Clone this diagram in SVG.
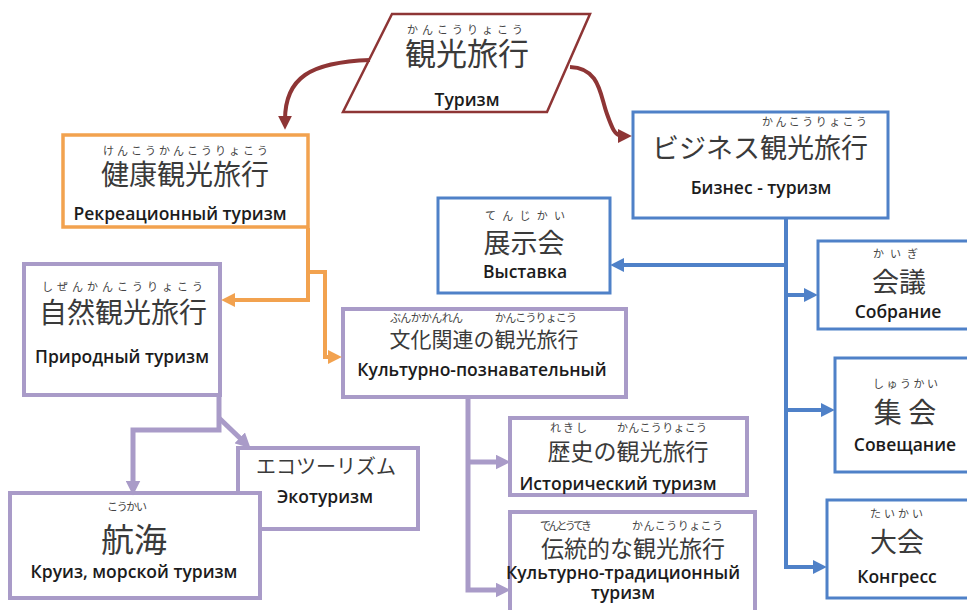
<svg xmlns="http://www.w3.org/2000/svg" width="967" height="610" viewBox="0 0 967 610">
<defs>
<style>
.jp{font-family:"Noto Sans CJK JP","Noto Sans CJK SC",sans-serif;fill:#3a3a3a;}
.fu{font-family:"Noto Sans CJK JP","Noto Sans CJK SC",sans-serif;fill:#444;font-size:11px;}
.ru{font-family:"Open Sans","Noto Sans",sans-serif;font-weight:600;font-size:17.5px;fill:#1c1c1c;}
.m{text-anchor:middle;}
.bo{fill:#fff;stroke:#F2A24F;stroke-width:3.5;}
.bp{fill:#fff;stroke:#A99BC8;stroke-width:4;}
.bb{fill:#fff;stroke:#4F81C8;stroke-width:3;}
.cr{fill:none;stroke:#8E3535;stroke-width:4;}
.co{fill:none;stroke:#F2A24F;stroke-width:4;}
.cp{fill:none;stroke:#A99BC8;stroke-width:5;}
.cb{fill:none;stroke:#4F81C8;stroke-width:4;}
</style>
<marker id="ar" viewBox="0 0 10 10" markerWidth="14" markerHeight="14" markerUnits="userSpaceOnUse" refX="3" refY="5" orient="auto"><path d="M0,0 L10,5 L0,10 z" fill="#8E3535"/></marker>
<marker id="ao" viewBox="0 0 10 10" markerWidth="14" markerHeight="14" markerUnits="userSpaceOnUse" refX="3" refY="5" orient="auto"><path d="M0,0 L10,5 L0,10 z" fill="#F2A24F"/></marker>
<marker id="ap" viewBox="0 0 10 10" markerWidth="15" markerHeight="15" markerUnits="userSpaceOnUse" refX="3" refY="5" orient="auto"><path d="M0,0 L10,5 L0,10 z" fill="#A99BC8"/></marker>
<marker id="ab" viewBox="0 0 10 10" markerWidth="14" markerHeight="14" markerUnits="userSpaceOnUse" refX="3" refY="5" orient="auto"><path d="M0,0 L10,5 L0,10 z" fill="#4F81C8"/></marker>
</defs>
<rect width="967" height="610" fill="#fff"/>

<g id="kanko">
<polygon points="392,14 590,14 547,112 343,112" fill="#fff" stroke="#8E3535" stroke-width="2.5"/>
<text class="fu" x="407" y="34" textLength="116" font-size="13">かんこうりょこう</text>
<text class="jp m" x="467" y="65" font-size="31">観光旅行</text>
<text class="ru m" x="467" y="106">Туризм</text>
</g>

<g id="kenko">
<rect class="bo" x="63" y="135" width="245" height="92"/>
<text class="fu" x="103" y="155" textLength="165">けんこうかんこうりょこう</text>
<text class="jp m" x="185" y="185" font-size="28">健康観光旅行</text>
<text class="ru m" x="180" y="220">Рекреационный туризм</text>
</g>

<g id="shizen">
<rect class="bp" x="24" y="264" width="196" height="131"/>
<text class="fu" x="42" y="291" textLength="161">しぜんかんこうりょこう</text>
<text class="jp m" x="123" y="323" font-size="28">自然観光旅行</text>
<text class="ru m" x="122" y="363">Природный туризм</text>
</g>

<g id="bunka">
<rect class="bp" x="343" y="309" width="283" height="88"/>
<text class="fu" x="390" y="322" textLength="73" font-size="10">ぶんかかんれん</text>
<text class="fu" x="495" y="322" textLength="82" font-size="10">かんこうりょこう</text>
<text class="jp m" x="484" y="347" font-size="21">文化関連の観光旅行</text>
<text class="ru m" x="482" y="376">Культурно-познавательный</text>
</g>

<g id="eco">
<rect class="bp" x="238" y="448" width="180" height="81"/>
<text class="jp m" x="326" y="474" font-size="20">エコツーリズム</text>
<text class="ru m" x="325" y="503">Экотуризм</text>
</g>

<g id="kokai">
<rect class="bp" x="10" y="493" width="250" height="105"/>
<text class="fu" x="107" y="511" textLength="40" font-size="12">こうかい</text>
<text class="jp m" x="134" y="552" font-size="33">航海</text>
<text class="ru m" x="134" y="578">Круиз, морской туризм</text>
</g>

<g id="rekishi">
<rect class="bp" x="510" y="418" width="237" height="77"/>
<text class="fu" x="550" y="432" textLength="37">れきし</text>
<text class="fu" x="617" y="432" textLength="90">かんこうりょこう</text>
<text class="jp m" x="628" y="460" font-size="23">歴史の観光旅行</text>
<text class="ru m" x="618" y="490">Исторический туризм</text>
</g>

<g id="dento">
<rect class="bp" x="510" y="512" width="245" height="110"/>
<text class="fu" x="540" y="530" textLength="52">でんとうてき</text>
<text class="fu" x="632" y="530" textLength="91">かんこうりょこう</text>
<text class="jp m" x="633" y="557" font-size="23">伝統的な観光旅行</text>
<text class="ru m" x="623" y="579" font-size="17">Культурно-традиционный</text>
<text class="ru m" x="623" y="599" font-size="17">туризм</text>
</g>

<g id="business">
<rect class="bb" x="633" y="112" width="255" height="106"/>
<text class="fu" x="762" y="126" textLength="105">かんこうりょこう</text>
<text class="jp" x="652" y="158" font-size="27">ビジネス観光旅行</text>
<text class="ru m" x="761" y="194">Бизнес - туризм</text>
</g>

<g id="tenjikai">
<rect class="bb" x="438" y="198" width="172" height="95"/>
<text class="fu" x="485" y="220" textLength="80" font-size="12">てんじかい</text>
<text class="jp m" x="524" y="253" font-size="27">展示会</text>
<text class="ru m" x="525" y="278">Выставка</text>
</g>

<g id="kaigi">
<rect class="bb" x="818" y="241" width="160" height="88"/>
<text class="fu" x="873" y="258" textLength="45" font-size="12">かいぎ</text>
<text class="jp m" x="899" y="292" font-size="27">会議</text>
<text class="ru m" x="898" y="318">Собрание</text>
</g>

<g id="shukai">
<rect class="bb" x="835" y="358" width="150" height="114"/>
<text class="fu" x="873" y="388" textLength="65" font-size="12">しゅうかい</text>
<text class="jp m" x="905" y="423" font-size="28">集 会</text>
<text class="ru m" x="905" y="451">Совещание</text>
</g>

<g id="taikai">
<rect class="bb" x="827" y="500" width="160" height="98"/>
<text class="fu" x="870" y="518" textLength="53" font-size="12">たいかい</text>
<text class="jp m" x="897" y="552" font-size="27">大会</text>
<text class="ru m" x="897" y="583">Конгресс</text>
</g>

<g id="connectors">
<path class="cr" d="M370,60 C310,62 285,78 285,120" marker-end="url(#ar)"/>
<path class="cr" d="M570,67 C600,68 600,95 607,114 C612,128 615,136 622,136" marker-end="url(#ar)"/>
<path class="co" d="M308,228 V300 H231" marker-end="url(#ao)"/>
<path class="co" d="M308,272 H325 V357 H332" marker-end="url(#ao)"/>
<path class="cp" d="M219,395 V430 H133 V485" marker-end="url(#ap)"/>
<path class="cp" d="M219,418 L243,441" marker-end="url(#ap)"/>
<path class="cp" d="M468,397 V590 H500" marker-end="url(#ap)"/>
<path class="cp" d="M468,462 H500" marker-end="url(#ap)"/>
<path class="cb" d="M786,218 V567 H817" marker-end="url(#ab)"/>
<path class="cb" d="M786,265 H620" marker-end="url(#ab)"/>
<path class="cb" d="M786,295 H808" marker-end="url(#ab)"/>
<path class="cb" d="M786,410 H825" marker-end="url(#ab)"/>
</g>
</svg>
